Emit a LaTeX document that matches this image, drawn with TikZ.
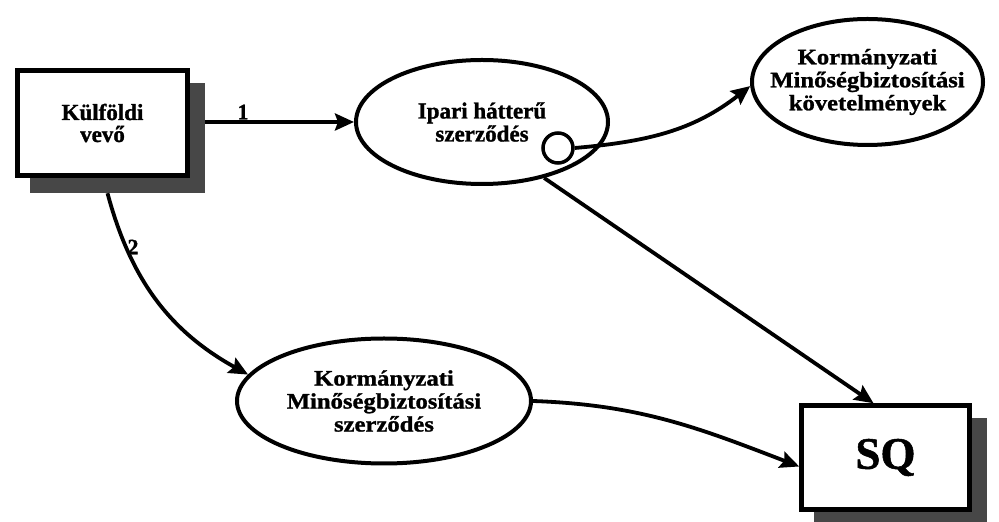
\documentclass[tikz,border=0pt]{standalone}
\usepackage{fontspec}
\setmainfont{Liberation Serif}[BoldFeatures={FakeBold=1.2}]
\newfontfamily\widefont{Liberation Serif}[FakeStretch=1.12,BoldFeatures={FakeBold=1.2}]
\usetikzlibrary{arrows.meta,shapes.geometric}

\tikzset{
  shadowbox/.style={rectangle, fill=black!72, draw=none, inner sep=0pt,
    minimum width=175pt, minimum height=110pt},
  mainbox/.style={rectangle, draw=black, fill=white, line width=4.5pt, inner sep=0pt,
    align=center, font=\bfseries\fontsize{23}{22}\selectfont},
  oval/.style={ellipse, draw=black, fill=white, line width=4pt, inner sep=0pt,
    align=center, font=\bfseries\fontsize{23}{23}\selectfont},
  widetext/.style={align=center, inner sep=0pt,
    font=\widefont\bfseries\fontsize{22}{23}\selectfont},
  port/.style={circle, draw=black, fill=white, line width=3.5pt, minimum size=30pt, inner sep=0pt},
  conn/.style={line width=3.8pt, -{Stealth[length=19pt,width=17pt,inset=3pt]}},
  num/.style={font=\bfseries\fontsize{22}{22}\selectfont, inner sep=0pt},
}

\begin{document}
\begin{tikzpicture}[x=1pt,y=1pt]
  \useasboundingbox (0,0) rectangle (999,522);
  \fill[white] (0,0) rectangle (999,522);

  % source box with its drop shadow
  \node[shadowbox] (kvsh) at (117.5,384) {};
  \node[mainbox, minimum width=170pt, minimum height=105pt] (kv) at (102.5,399)
    {Külföldi\\vevő};

  % target box with its drop shadow
  \node[shadowbox, minimum width=173pt, minimum height=109pt] (sqsh) at (900.5,49.5) {};
  \node[mainbox, minimum width=168pt, minimum height=104pt,
        font=\bfseries\fontsize{45}{45}\selectfont] (sq) at (885.5,64.5) {SQ};

  % contracts and requirements
  \node[oval, minimum width=252pt, minimum height=124pt] (ipari) at (482,400)
    {Ipari hátterű\\szerződés};
  \node[oval, minimum width=231pt, minimum height=126pt,
        label={[widetext]center:Kormányzati\\Minőségbiztosítási\\követelmények}]
    (kgk) at (867.5,440) {};
  \node[oval, minimum width=294pt, minimum height=125pt,
        label={[widetext]center:Kormányzati\\Minőségbiztosítási\\szerződés}]
    (kmsz) at (384,121) {};

  % interface port on the industrial contract
  \node[port] (circ) at (558,374) {};

  % connectors
  \draw[conn] (kvsh.east |- ipari.west) -- (ipari.west);
  \draw[conn] ([xshift=-10pt]kvsh.south) to[out=-75, in=151] (kmsz.169);
  \draw[conn] (circ.east) to[out=5, in=218] (kgk.182);
  \draw[conn] (ipari.-42) -- ([xshift=-12pt]sq.north);
  \draw[conn] (kmsz.east) to[out=-2, in=159] ([yshift=-9pt]sq.west);

  % flow numbers
  \node[num] (n1) at (243,410) {1};
  \node[num] (n2) at (133,275) {2};
\end{tikzpicture}
\end{document}
